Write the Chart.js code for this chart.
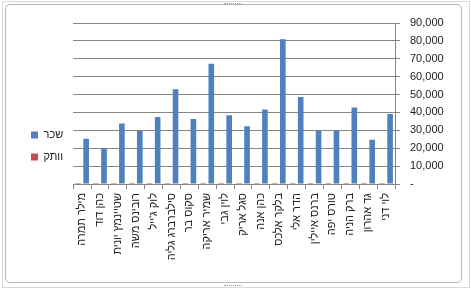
<!DOCTYPE html>
<html lang="he">
<head>
<meta charset="UTF-8">
<title>שכר ווותק</title>
<script src="https://cdn.jsdelivr.net/npm/chart.js"></script>
<style>
  body { margin: 0; background: #fff; }
  .frame { position: absolute; left: 2px; top: 1px; width: 466px; height: 285px; border: 1px solid #d9d9d9; }
  .inner { position: absolute; left: 5px; top: 4px; width: 455px; height: 277px; border: 1px solid #b9b9b9; border-radius: 5px; }
  .handle { position: absolute; border-top: 1px dotted #9a9a9a; width: 18px; }
  canvas { position: absolute; left: 0; top: 0; }
</style>
</head>
<body>
<div class="frame"></div>
<div class="inner"></div>
<div class="handle" style="left:224px; top:3px;"></div>
<div class="handle" style="left:224px; top:285px;"></div>
<canvas id="salaryChart" width="471" height="292"></canvas>

<script>
  // names go right to left in the picture, so the x axis is reversed
  const names = ["לוי דני", "גד אהרון", "ברק הניה", "טורס יפה", "ברנס איילין", "הדר אלי",
                 "בלקר אלכס", "כהן אנה", "סגל אריק", "לוין גבי", "שמיר אריקה", "סקוס בר",
                 "סילברברג גליה", "לוק ג'ייל", "רובינס משה", "שטיינמץ יונית", "כהן דוד", "מילר תמרה"];
  const salary = [39200, 24800, 42800, 29800, 29800, 48600, 80900, 41600, 32300, 38500,
                  67200, 36400, 52900, 37500, 29600, 33800, 19900, 25300];
  const seniority = [12, 5, 15, 8, 7, 18, 25, 14, 9, 11, 22, 10, 17, 13, 6, 9, 4, 7];
  const yTicks = [0, 10000, 20000, 30000, 40000, 50000, 60000, 70000, 80000, 90000];

  const font = { family: "'Liberation Sans', Arial, sans-serif", size: 11 };

  new Chart(document.getElementById("salaryChart"), {
    type: "bar",
    data: {
      labels: names,
      datasets: [
        { label: "וותק", data: seniority, backgroundColor: "#C0504D", minBarLength: 1 },
        { label: "שכר", data: salary, backgroundColor: "#4F81BD" }
      ]
    },
    options: {
      responsive: false,
      animation: false,
      layout: { padding: { left: 20, right: 0, top: 0, bottom: 0 } },
      datasets: { bar: { categoryPercentage: 0.9, barPercentage: 0.7 } },
      scales: {
        x: {
          reverse: true,
          grid: { display: true, drawOnChartArea: false, tickLength: 5, color: "#868686" },
          border: { color: "#868686" },
          ticks: { autoSkip: false, minRotation: 90, maxRotation: 90, padding: 4, color: "#222", font: font },
          afterFit: s => { s.height = 108; }
        },
        y: {
          position: "right",
          min: 0, max: 90000,
          afterBuildTicks: s => { s.ticks = yTicks.map(v => ({ value: v })); },
          grid: { color: "#868686", tickLength: 5 },
          border: { color: "#868686" },
          ticks: {
            padding: 10, color: "#222", font: font,
            callback: v => v === 0 ? "-" : v.toLocaleString("en-US")
          },
          // keep the plot top at 23px without pushing the legend down
          afterFit: s => { s.width = 76; s.paddingTop = 23; }
        }
      },
      plugins: {
        legend: {
          position: "left",
          reverse: true,
          labels: { boxWidth: 7, boxHeight: 7, padding: 11, color: "#222", font: font }
        },
        tooltip: { enabled: false }
      }
    }
  });
</script>
</body>
</html>
